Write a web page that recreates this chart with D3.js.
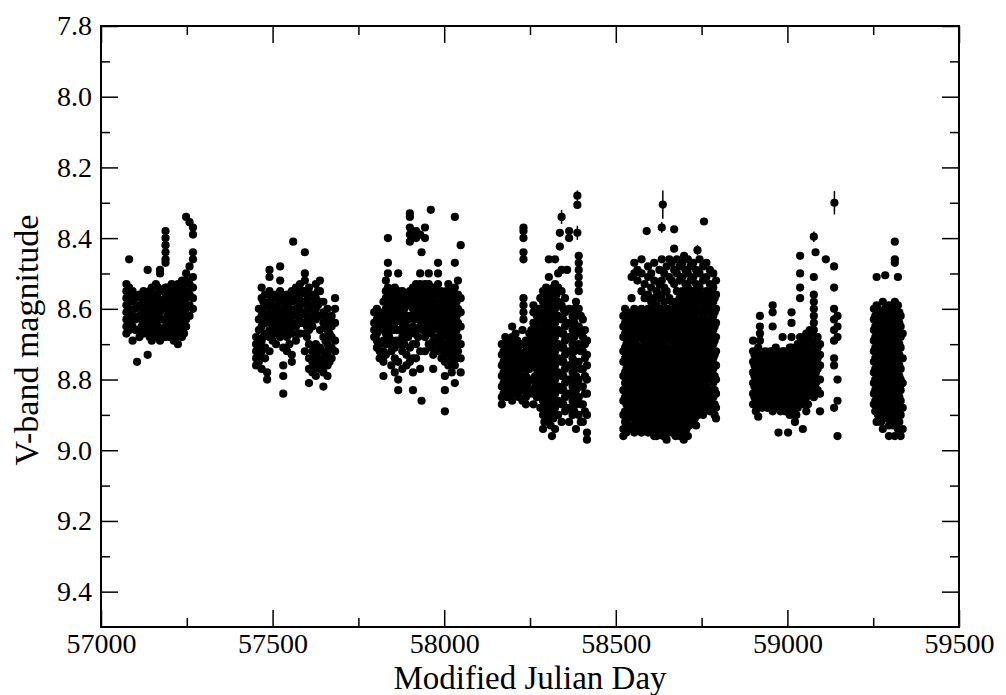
<!DOCTYPE html>
<html>
<head>
<meta charset="utf-8">
<script src="https://cdn.jsdelivr.net/npm/d3@7"></script>
<style>
  body { margin: 0; background: #fff; }
  svg text { font-family: "Liberation Serif", "Times New Roman", serif; fill: #000; }
</style>
</head>
<body>
<div id="chart"></div>
<script>
// observing seasons: [MJD, [V magnitudes observed around that date]]
const season1 = [
  [57074, [8.53, 8.55, 8.57, 8.59, 8.61, 8.63, 8.65, 8.67]],
  [57082, [8.46, 8.54, 8.56, 8.60, 8.62, 8.64, 8.66]],
  [57092, [8.55, 8.58, 8.62, 8.65, 8.69]],
  [57100, [8.57, 8.60, 8.63, 8.66]],
  [57105, [8.75]],
  [57112, [8.56, 8.59, 8.62, 8.66, 8.68]],
  [57118, [8.57, 8.60, 8.63, 8.65]],
  [57124, [8.55, 8.58, 8.61, 8.64, 8.67]],
  [57130, [8.56, 8.59, 8.62, 8.64, 8.66]],
  [57136, [8.49, 8.57, 8.60, 8.62, 8.65, 8.67, 8.73]],
  [57142, [8.55, 8.58, 8.60, 8.63, 8.66, 8.68]],
  [57148, [8.54, 8.58, 8.61, 8.63, 8.66, 8.69]],
  [57154, [8.56, 8.59, 8.61, 8.64, 8.66]],
  [57160, [8.53, 8.56, 8.59, 8.62, 8.64, 8.67]],
  [57166, [8.54, 8.57, 8.60, 8.62, 8.65, 8.68]],
  [57172, [8.49, 8.50, 8.55, 8.58, 8.61, 8.63, 8.66, 8.69]],
  [57180, [8.55, 8.58, 8.60, 8.63, 8.66, 8.68]],
  [57188, [8.38, 8.40, 8.42, 8.44, 8.46, 8.47, 8.54, 8.57, 8.60, 8.63, 8.65, 8.68]],
  [57194, [8.54, 8.56, 8.59, 8.62, 8.64, 8.67]],
  [57200, [8.55, 8.58, 8.61, 8.63, 8.66, 8.68]],
  [57206, [8.53, 8.56, 8.60, 8.62, 8.65, 8.67]],
  [57212, [8.54, 8.57, 8.59, 8.62, 8.64, 8.67, 8.69]],
  [57218, [8.55, 8.58, 8.60, 8.63, 8.65, 8.68]],
  [57224, [8.53, 8.56, 8.59, 8.61, 8.64, 8.66, 8.70]],
  [57230, [8.54, 8.57, 8.60, 8.62, 8.65, 8.67]],
  [57236, [8.52, 8.55, 8.58, 8.61, 8.63, 8.66, 8.68]],
  [57242, [8.53, 8.56, 8.59, 8.62, 8.64, 8.67]],
  [57248, [8.34, 8.50, 8.52, 8.55, 8.57, 8.60, 8.63, 8.65]],
  [57258, [8.355, 8.48, 8.53, 8.56, 8.59, 8.62]],
  [57268, [8.37, 8.39, 8.44, 8.46, 8.51, 8.54, 8.57, 8.60]]
];

const season2 = [
  [57452, [8.68, 8.70, 8.72, 8.74, 8.76]],
  [57460, [8.60, 8.63, 8.66, 8.70, 8.73, 8.75]],
  [57468, [8.54, 8.57, 8.60, 8.62, 8.65, 8.69, 8.72, 8.77]],
  [57473, [8.58, 8.61, 8.64, 8.68]],
  [57478, [8.56, 8.59, 8.62, 8.64, 8.67, 8.71, 8.74]],
  [57484, [8.78, 8.80]],
  [57491, [8.49, 8.51, 8.55, 8.58, 8.61, 8.63, 8.66, 8.68, 8.72]],
  [57495, [8.56, 8.60, 8.64, 8.67]],
  [57500, [8.57, 8.60, 8.62, 8.65, 8.69]],
  [57510, [8.56, 8.59, 8.61, 8.64, 8.67, 8.70]],
  [57516, [8.57, 8.60, 8.63, 8.66]],
  [57522, [8.48, 8.52, 8.55, 8.58, 8.62, 8.65, 8.68]],
  [57531, [8.57, 8.60, 8.63, 8.66, 8.71, 8.76, 8.79, 8.84]],
  [57536, [8.58, 8.61, 8.64, 8.67]],
  [57542, [8.56, 8.59, 8.62, 8.65, 8.68, 8.72]],
  [57549, [8.57, 8.60, 8.63, 8.66, 8.70]],
  [57556, [8.55, 8.58, 8.61, 8.64, 8.67, 8.73, 8.75]],
  [57560, [8.41]],
  [57568, [8.54, 8.57, 8.60, 8.62, 8.65, 8.69]],
  [57574, [8.55, 8.58, 8.61, 8.64, 8.67]],
  [57580, [8.53, 8.56, 8.59, 8.62, 8.64, 8.67]],
  [57587, [8.55, 8.58, 8.61, 8.64]],
  [57594, [8.44, 8.50, 8.52, 8.55, 8.58, 8.61, 8.64, 8.67, 8.72]],
  [57600, [8.56, 8.59, 8.62, 8.65, 8.68]],
  [57606, [8.54, 8.57, 8.60, 8.63, 8.66, 8.70, 8.74, 8.77, 8.81]],
  [57616, [8.56, 8.59, 8.62, 8.65, 8.72, 8.75, 8.78]],
  [57621, [8.57, 8.60, 8.63, 8.71, 8.74, 8.77]],
  [57626, [8.53, 8.57, 8.60, 8.63, 8.70, 8.73, 8.76, 8.79]],
  [57632, [8.55, 8.59, 8.62, 8.72, 8.75]],
  [57638, [8.52, 8.55, 8.58, 8.62, 8.66, 8.71, 8.74, 8.77]],
  [57648, [8.58, 8.61, 8.64, 8.68, 8.72, 8.75, 8.78, 8.82]],
  [57654, [8.62, 8.65, 8.69, 8.73, 8.76]],
  [57660, [8.60, 8.63, 8.66, 8.70, 8.73, 8.76, 8.79]],
  [57666, [8.64, 8.67, 8.71, 8.75]],
  [57672, [8.62, 8.65, 8.68, 8.71, 8.74]],
  [57682, [8.57, 8.60, 8.64, 8.69, 8.72]]
];

const season3 = [
  [57796, [8.61, 8.64, 8.66, 8.68]],
  [57804, [8.60, 8.63, 8.65, 8.67, 8.69, 8.71]],
  [57812, [8.62, 8.64, 8.66, 8.70, 8.72, 8.74]],
  [57823, [8.58, 8.61, 8.65, 8.69, 8.72, 8.75, 8.79]],
  [57830, [8.52, 8.55, 8.57, 8.60, 8.63, 8.67, 8.70, 8.73]],
  [57836, [8.40, 8.47, 8.50, 8.54, 8.58, 8.62, 8.66, 8.70]],
  [57840, [8.56, 8.60, 8.64, 8.68]],
  [57846, [8.55, 8.58, 8.62, 8.66, 8.69, 8.72, 8.76]],
  [57851, [8.56, 8.59, 8.62, 8.66, 8.70]],
  [57856, [8.54, 8.57, 8.60, 8.64, 8.71, 8.74, 8.78]],
  [57861, [8.56, 8.59, 8.62, 8.66, 8.69]],
  [57866, [8.50, 8.55, 8.59, 8.62, 8.66, 8.70, 8.75, 8.80, 8.83]],
  [57872, [8.57, 8.60, 8.63, 8.66, 8.70]],
  [57878, [8.55, 8.58, 8.61, 8.64, 8.68, 8.72, 8.77]],
  [57884, [8.57, 8.60, 8.63, 8.67, 8.70]],
  [57890, [8.56, 8.59, 8.62, 8.65, 8.68, 8.73, 8.76]],
  [57895, [8.56, 8.59, 8.63, 8.68]],
  [57900, [8.33, 8.34, 8.37, 8.39, 8.41, 8.55, 8.58, 8.62, 8.66, 8.71, 8.75]],
  [57909, [8.54, 8.57, 8.60, 8.65, 8.70, 8.74, 8.78, 8.83]],
  [57913, [8.55, 8.58, 8.61, 8.63, 8.67]],
  [57918, [8.38, 8.40, 8.53, 8.56, 8.59, 8.62, 8.66, 8.70, 8.74]],
  [57924, [8.55, 8.57, 8.60, 8.63, 8.68]],
  [57930, [8.39, 8.50, 8.53, 8.56, 8.59, 8.62, 8.65, 8.72, 8.77]],
  [57934, [8.44, 8.86]],
  [57937, [8.54, 8.57, 8.60, 8.63, 8.66]],
  [57944, [8.37, 8.40, 8.53, 8.56, 8.58, 8.61, 8.64, 8.68, 8.72]],
  [57950, [8.55, 8.58, 8.61, 8.64, 8.67]],
  [57955, [8.50, 8.53, 8.56, 8.59, 8.62, 8.66, 8.70]],
  [57961, [8.32]],
  [57962, [8.55, 8.58, 8.61, 8.64, 8.67, 8.71]],
  [57968, [8.54, 8.57, 8.60, 8.63, 8.66, 8.69, 8.73, 8.77]],
  [57975, [8.55, 8.58, 8.61, 8.65, 8.70]],
  [57982, [8.47, 8.50, 8.53, 8.56, 8.60, 8.64, 8.68, 8.72]],
  [57987, [8.56, 8.59, 8.62, 8.66, 8.70]],
  [57992, [8.55, 8.58, 8.61, 8.65, 8.70, 8.74]],
  [57997, [8.57, 8.60, 8.64, 8.68, 8.72]],
  [58002, [8.56, 8.59, 8.63, 8.67, 8.71, 8.75, 8.79, 8.83, 8.89]],
  [58007, [8.55, 8.58, 8.62, 8.66, 8.70, 8.73]],
  [58012, [8.53, 8.56, 8.60, 8.64, 8.68, 8.72, 8.76]],
  [58017, [8.57, 8.60, 8.64, 8.68, 8.72]],
  [58022, [8.55, 8.58, 8.62, 8.66, 8.70, 8.74, 8.78]],
  [58027, [8.56, 8.60, 8.63, 8.67, 8.71, 8.75]],
  [58031, [8.34, 8.47, 8.54, 8.57, 8.61, 8.65, 8.69, 8.73, 8.76, 8.81]],
  [58036, [8.58, 8.62, 8.66, 8.70, 8.74]],
  [58040, [8.52, 8.56, 8.60, 8.64, 8.68, 8.72]],
  [58048, [8.42, 8.57, 8.61, 8.65, 8.70, 8.74, 8.78]]
];

const season4 = [
  [58168, [8.70, 8.73, 8.76, 8.79, 8.82, 8.85, 8.87]],
  [58173, [8.72, 8.75, 8.78, 8.81, 8.84]],
  [58178, [8.68, 8.71, 8.74, 8.77, 8.80, 8.83]],
  [58183, [8.70, 8.73, 8.76, 8.79, 8.82, 8.85]],
  [58188, [8.71, 8.74, 8.77, 8.80, 8.84]],
  [58193, [8.69, 8.72, 8.75, 8.79, 8.82]],
  [58198, [8.65, 8.68, 8.72, 8.75, 8.78, 8.82, 8.86]],
  [58203, [8.70, 8.74, 8.77, 8.80, 8.84]],
  [58208, [8.67, 8.70, 8.73, 8.76, 8.80, 8.83]],
  [58213, [8.69, 8.72, 8.75, 8.79, 8.82]],
  [58218, [8.72, 8.75, 8.78, 8.81, 8.85]],
  [58223, [8.70, 8.73, 8.76, 8.79, 8.83]],
  [58228, [8.66, 8.70, 8.74, 8.77, 8.80, 8.83, 8.86]],
  [58231, [8.37, 8.38, 8.40, 8.44, 8.46, 8.57, 8.59, 8.61, 8.63]],
  [58238, [8.69, 8.72, 8.75, 8.79, 8.82, 8.85, 8.87]],
  [58243, [8.70, 8.74, 8.77, 8.81, 8.84]],
  [58248, [8.67, 8.71, 8.74, 8.77, 8.80, 8.84]],
  [58254, [8.66, 8.69, 8.73, 8.76, 8.80, 8.83]],
  [58260, [8.59, 8.61, 8.64, 8.68, 8.72, 8.76, 8.80, 8.84, 8.87]],
  [58265, [8.64, 8.68, 8.71, 8.75, 8.79, 8.82]],
  [58270, [8.62, 8.66, 8.70, 8.73, 8.77, 8.81, 8.85]],
  [58275, [8.60, 8.64, 8.68, 8.72, 8.75, 8.79, 8.83]],
  [58280, [8.57, 8.60, 8.63, 8.67, 8.71, 8.75, 8.79, 8.83, 8.88]],
  [58284, [8.57, 8.60, 8.64, 8.68, 8.72, 8.76, 8.80, 8.84, 8.88]],
  [58288, [8.55, 8.58, 8.62, 8.66, 8.70, 8.74, 8.78, 8.82, 8.86, 8.90, 8.94]],
  [58292, [8.56, 8.60, 8.64, 8.68, 8.72, 8.76, 8.80, 8.84, 8.88, 8.92]],
  [58297, [8.54, 8.57, 8.60, 8.64, 8.68, 8.72, 8.76, 8.80, 8.84, 8.88]],
  [58301, [8.56, 8.59, 8.62, 8.66, 8.70, 8.74, 8.78, 8.82, 8.86, 8.90]],
  [58305, [8.46, 8.51, 8.55, 8.58, 8.62, 8.66, 8.70, 8.74, 8.78, 8.82, 8.86, 8.91]],
  [58310, [8.57, 8.60, 8.64, 8.68, 8.72, 8.76, 8.80, 8.84, 8.88, 8.93]],
  [58314, [8.55, 8.58, 8.61, 8.65, 8.69, 8.73, 8.77, 8.81, 8.85, 8.89, 8.96]],
  [58318, [8.54, 8.57, 8.60, 8.63, 8.67, 8.71, 8.75, 8.79, 8.83, 8.87, 8.91]],
  [58323, [8.46, 8.53, 8.56, 8.60, 8.64, 8.68, 8.72, 8.76, 8.80, 8.84, 8.88, 8.94]],
  [58327, [8.56, 8.59, 8.62, 8.66, 8.70, 8.74, 8.78, 8.82, 8.86, 8.90]],
  [58332, [8.50, 8.54, 8.58, 8.62, 8.66, 8.70, 8.74, 8.78, 8.82, 8.86, 8.90]],
  [58337, [8.385, 8.424]],
  [58342, [8.49, 8.55, 8.59, 8.63, 8.67, 8.71, 8.75, 8.79, 8.83, 8.87, 8.92]],
  [58347, [8.60, 8.63, 8.67, 8.71, 8.75, 8.79, 8.83, 8.87]],
  [58352, [8.57, 8.61, 8.65, 8.69, 8.73, 8.77, 8.81, 8.85, 8.89]],
  [58358, [8.49]],
  [58364, [8.38, 8.40, 8.60, 8.64, 8.68, 8.72, 8.76, 8.80, 8.84, 8.88, 8.92]],
  [58369, [8.64, 8.68, 8.72, 8.76, 8.80, 8.84, 8.88]],
  [58374, [8.62, 8.66, 8.70, 8.74, 8.78, 8.82, 8.86, 8.90]],
  [58379, [8.60, 8.64, 8.68, 8.72, 8.77, 8.81, 8.85, 8.89]],
  [58384, [8.58, 8.62, 8.66, 8.71, 8.75, 8.79, 8.83, 8.87, 8.94]],
  [58388, [8.306]],
  [58392, [8.45, 8.47, 8.49, 8.51, 8.53, 8.55, 8.60, 8.65, 8.70, 8.75, 8.80, 8.85, 8.90]],
  [58398, [8.62, 8.67, 8.72, 8.77, 8.82, 8.87, 8.92]],
  [58404, [8.63, 8.68, 8.72, 8.77, 8.82, 8.87, 8.92]],
  [58410, [8.66, 8.70, 8.74, 8.79, 8.84, 8.89]],
  [58416, [8.69, 8.73, 8.76, 8.80, 8.84, 8.90, 8.95, 8.97]]
];

const season5 = [
  [58522, [8.62, 8.65, 8.68, 8.72, 8.75, 8.79, 8.83, 8.86, 8.90, 8.94, 8.96]],
  [58527, [8.60, 8.64, 8.67, 8.71, 8.74, 8.78, 8.81, 8.85, 8.89, 8.92]],
  [58531, [8.63, 8.66, 8.70, 8.73, 8.77, 8.80, 8.84, 8.87, 8.91, 8.95]],
  [58536, [8.61, 8.64, 8.68, 8.71, 8.75, 8.78, 8.82, 8.85, 8.88, 8.91, 8.94]],
  [58541, [8.62, 8.66, 8.69, 8.73, 8.76, 8.80, 8.84, 8.87, 8.90, 8.93]],
  [58546, [8.51, 8.57, 8.63, 8.66, 8.69, 8.73, 8.76, 8.80, 8.83, 8.87, 8.90, 8.93]],
  [58550, [8.61, 8.65, 8.68, 8.72, 8.75, 8.79, 8.82, 8.86, 8.89, 8.93]],
  [58554, [8.47, 8.50, 8.60, 8.63, 8.67, 8.70, 8.74, 8.77, 8.81, 8.84, 8.88, 8.91, 8.95]],
  [58559, [8.63, 8.66, 8.70, 8.73, 8.77, 8.80, 8.84, 8.87, 8.91, 8.94]],
  [58563, [8.49, 8.52, 8.62, 8.65, 8.68, 8.72, 8.75, 8.79, 8.82, 8.86, 8.89, 8.93]],
  [58568, [8.61, 8.65, 8.68, 8.72, 8.76, 8.79, 8.83, 8.86, 8.90, 8.93]],
  [58575, [8.46, 8.50, 8.55, 8.60, 8.64, 8.67, 8.71, 8.74, 8.78, 8.81, 8.85, 8.88, 8.92, 8.95]],
  [58580, [8.62, 8.66, 8.69, 8.73, 8.76, 8.80, 8.84, 8.87, 8.91, 8.94]],
  [58584, [8.53, 8.57, 8.61, 8.65, 8.68, 8.72, 8.76, 8.79, 8.83, 8.86, 8.90, 8.93]],
  [58589, [8.61, 8.64, 8.68, 8.72, 8.75, 8.79, 8.82, 8.86, 8.89, 8.93]],
  [58594, [8.48, 8.51, 8.56, 8.60, 8.63, 8.67, 8.70, 8.74, 8.77, 8.81, 8.84, 8.88, 8.91, 8.95]],
  [58598, [8.62, 8.65, 8.69, 8.72, 8.76, 8.79, 8.83, 8.86, 8.90, 8.93]],
  [58603, [8.50, 8.54, 8.58, 8.62, 8.66, 8.69, 8.73, 8.76, 8.80, 8.83, 8.87, 8.90, 8.94]],
  [58607, [8.60, 8.64, 8.67, 8.71, 8.74, 8.78, 8.81, 8.85, 8.88, 8.92, 8.95]],
  [58612, [8.47, 8.52, 8.57, 8.61, 8.64, 8.68, 8.71, 8.75, 8.78, 8.82, 8.85, 8.89, 8.92, 8.96]],
  [58616, [8.61, 8.65, 8.69, 8.72, 8.76, 8.80, 8.83, 8.87, 8.90, 8.93]],
  [58619, [8.55, 8.59, 8.63, 8.67, 8.70, 8.74, 8.77, 8.81, 8.84, 8.88, 8.91, 8.94, 8.96]],
  [58623, [8.62, 8.66, 8.69, 8.73, 8.77, 8.80, 8.84, 8.87, 8.91, 8.95]],
  [58627, [8.49, 8.53, 8.57, 8.60, 8.64, 8.68, 8.71, 8.75, 8.79, 8.82, 8.86, 8.89, 8.93]],
  [58631, [8.60, 8.63, 8.67, 8.70, 8.74, 8.78, 8.81, 8.85, 8.88, 8.92]],
  [58634, [8.46, 8.52, 8.56, 8.61, 8.65, 8.69, 8.72, 8.76, 8.80, 8.83, 8.87, 8.90, 8.94]],
  [58638, [8.61, 8.64, 8.68, 8.71, 8.75, 8.79, 8.82, 8.86, 8.89, 8.93, 8.96]],
  [58641, [8.50, 8.54, 8.58, 8.62, 8.66, 8.70, 8.73, 8.77, 8.81, 8.84, 8.88, 8.92, 8.95]],
  [58645, [8.62, 8.65, 8.69, 8.72, 8.76, 8.80, 8.83, 8.87, 8.90, 8.94]],
  [58648, [8.48, 8.55, 8.60, 8.63, 8.67, 8.71, 8.74, 8.78, 8.82, 8.85, 8.89, 8.93, 8.97]],
  [58652, [8.60, 8.64, 8.67, 8.71, 8.74, 8.78, 8.81, 8.85, 8.88, 8.92, 8.95]],
  [58656, [8.46, 8.51, 8.57, 8.61, 8.65, 8.68, 8.72, 8.76, 8.79, 8.83, 8.87, 8.90, 8.94]],
  [58660, [8.61, 8.65, 8.68, 8.72, 8.75, 8.79, 8.82, 8.86, 8.89, 8.93]],
  [58663, [8.47, 8.52, 8.58, 8.62, 8.66, 8.69, 8.73, 8.77, 8.80, 8.84, 8.88, 8.91, 8.95]],
  [58667, [8.62, 8.66, 8.69, 8.73, 8.76, 8.80, 8.84, 8.87, 8.91, 8.94]],
  [58670, [8.375, 8.43, 8.49, 8.53, 8.60, 8.64, 8.67, 8.71, 8.75, 8.78, 8.82, 8.86, 8.89, 8.93]],
  [58674, [8.58, 8.63, 8.67, 8.70, 8.74, 8.77, 8.81, 8.85, 8.88, 8.92, 8.96]],
  [58678, [8.46, 8.50, 8.55, 8.61, 8.65, 8.69, 8.72, 8.76, 8.80, 8.83, 8.87, 8.91, 8.94]],
  [58682, [8.59, 8.62, 8.66, 8.69, 8.73, 8.77, 8.80, 8.84, 8.87, 8.91, 8.94]],
  [58686, [8.48, 8.52, 8.57, 8.60, 8.63, 8.67, 8.70, 8.74, 8.78, 8.81, 8.85, 8.89, 8.92, 8.96]],
  [58690, [8.58, 8.61, 8.65, 8.68, 8.72, 8.75, 8.79, 8.83, 8.86, 8.90, 8.93]],
  [58694, [8.47, 8.51, 8.55, 8.62, 8.66, 8.69, 8.73, 8.77, 8.80, 8.84, 8.88, 8.91, 8.95]],
  [58698, [8.57, 8.60, 8.64, 8.67, 8.71, 8.75, 8.78, 8.82, 8.85, 8.89, 8.93, 8.97]],
  [58699, [8.45]],
  [58703, [8.49, 8.53, 8.58, 8.61, 8.64, 8.68, 8.72, 8.75, 8.79, 8.83, 8.86, 8.90, 8.93]],
  [58706, [8.56, 8.60, 8.63, 8.66, 8.70, 8.74, 8.77, 8.81, 8.85, 8.88, 8.91, 8.94]],
  [58710, [8.46, 8.50, 8.54, 8.59, 8.63, 8.67, 8.70, 8.74, 8.78, 8.81, 8.85, 8.89, 8.92, 8.96]],
  [58714, [8.57, 8.61, 8.64, 8.68, 8.71, 8.75, 8.79, 8.82, 8.86, 8.89, 8.93]],
  [58718, [8.48, 8.52, 8.56, 8.60, 8.65, 8.69, 8.72, 8.76, 8.80, 8.83, 8.87, 8.90]],
  [58722, [8.58, 8.61, 8.65, 8.68, 8.72, 8.75, 8.79, 8.82, 8.86, 8.89, 8.92]],
  [58726, [8.47, 8.51, 8.55, 8.62, 8.66, 8.70, 8.73, 8.77, 8.81, 8.84, 8.88, 8.92]],
  [58730, [8.56, 8.59, 8.63, 8.66, 8.70, 8.73, 8.77, 8.80, 8.84, 8.87, 8.91]],
  [58734, [8.49, 8.53, 8.57, 8.61, 8.64, 8.68, 8.71, 8.75, 8.79, 8.82, 8.86, 8.89, 8.93]],
  [58739, [8.56, 8.60, 8.65, 8.69, 8.72, 8.76, 8.80, 8.83, 8.87, 8.90]],
  [58744, [8.46, 8.50, 8.54, 8.58, 8.63, 8.67, 8.70, 8.74, 8.78, 8.81, 8.85, 8.88]],
  [58749, [8.57, 8.61, 8.63, 8.67, 8.71, 8.74, 8.78, 8.82, 8.85, 8.89]],
  [58754, [8.48, 8.52, 8.56, 8.60, 8.65, 8.69, 8.72, 8.76, 8.80, 8.83, 8.87, 8.90]],
  [58759, [8.58, 8.61, 8.65, 8.69, 8.73, 8.76, 8.80, 8.84, 8.87]],
  [58764, [8.47, 8.51, 8.55, 8.59, 8.63, 8.67, 8.71, 8.74, 8.78, 8.82, 8.85]],
  [58769, [8.56, 8.60, 8.65, 8.69, 8.73, 8.76, 8.80, 8.84, 8.88]],
  [58774, [8.49, 8.53, 8.57, 8.61, 8.64, 8.68, 8.72, 8.75, 8.79, 8.83, 8.86, 8.89]],
  [58779, [8.55, 8.59, 8.63, 8.66, 8.70, 8.73, 8.77, 8.80, 8.84, 8.87]],
  [58784, [8.50, 8.54, 8.58, 8.62, 8.66, 8.70, 8.74, 8.77, 8.81, 8.85]],
  [58788, [8.57, 8.61, 8.65, 8.69, 8.73, 8.76, 8.79, 8.83, 8.87, 8.90]],
  [58792, [8.52, 8.56, 8.60, 8.64, 8.68, 8.72, 8.76, 8.80, 8.84, 8.88, 8.91]]
];

const season6 = [
  [58900, [8.69, 8.72, 8.75, 8.78, 8.81, 8.84, 8.87]],
  [58904, [8.73, 8.76, 8.79, 8.82, 8.85]],
  [58908, [8.74, 8.77, 8.80, 8.83, 8.86, 8.89]],
  [58911, [8.72, 8.75, 8.79, 8.82, 8.85, 8.88]],
  [58915, [8.71, 8.74, 8.78, 8.81, 8.84, 8.87, 8.905]],
  [58920, [8.62, 8.65, 8.67, 8.69]],
  [58926, [8.73, 8.76, 8.79, 8.82, 8.85, 8.88]],
  [58931, [8.74, 8.77, 8.80, 8.83, 8.86]],
  [58936, [8.72, 8.75, 8.78, 8.81, 8.84, 8.87]],
  [58941, [8.73, 8.76, 8.79, 8.82, 8.85, 8.88]],
  [58946, [8.74, 8.77, 8.80, 8.83, 8.86]],
  [58951, [8.72, 8.75, 8.78, 8.81, 8.84, 8.87]],
  [58957, [8.59, 8.61, 8.65, 8.72, 8.75, 8.78, 8.81, 8.84, 8.87, 8.89]],
  [58961, [8.73, 8.76, 8.79, 8.82, 8.85, 8.88]],
  [58966, [8.71, 8.74, 8.77, 8.80, 8.83, 8.86]],
  [58970, [8.72, 8.75, 8.78, 8.81, 8.84, 8.87]],
  [58974, [8.73, 8.76, 8.79, 8.82, 8.85, 8.88, 8.95]],
  [58980, [8.74, 8.77, 8.80, 8.83, 8.86, 8.89]],
  [58986, [8.68, 8.72, 8.75, 8.78, 8.81, 8.84, 8.87]],
  [58990, [8.72, 8.75, 8.78, 8.81, 8.84, 8.87]],
  [58994, [8.74, 8.77, 8.80, 8.83, 8.86, 8.89]],
  [58998, [8.73, 8.76, 8.79, 8.82, 8.85, 8.88]],
  [59002, [8.72, 8.75, 8.78, 8.81, 8.84, 8.87, 8.95]],
  [59007, [8.71, 8.74, 8.77, 8.80, 8.83, 8.86, 8.90]],
  [59012, [8.61, 8.64, 8.68, 8.71, 8.74, 8.77, 8.80, 8.83, 8.86, 8.89]],
  [59017, [8.72, 8.75, 8.78, 8.81, 8.84, 8.87]],
  [59022, [8.73, 8.76, 8.79, 8.82, 8.85, 8.88, 8.92]],
  [59026, [8.71, 8.74, 8.77, 8.80, 8.83, 8.86, 8.90]],
  [59030, [8.70, 8.73, 8.76, 8.79, 8.82, 8.85, 8.88]],
  [59037, [8.45, 8.50, 8.54, 8.57, 8.68, 8.71, 8.74, 8.77, 8.80, 8.83, 8.86]],
  [59041, [8.70, 8.73, 8.76, 8.79, 8.82, 8.85]],
  [59045, [8.69, 8.72, 8.75, 8.78, 8.81, 8.84, 8.87, 8.94]],
  [59050, [8.68, 8.71, 8.74, 8.77, 8.80, 8.83, 8.86]],
  [59055, [8.67, 8.70, 8.73, 8.76, 8.79, 8.82, 8.85, 8.89]],
  [59060, [8.68, 8.71, 8.74, 8.77, 8.80, 8.83, 8.87]],
  [59065, [8.66, 8.69, 8.72, 8.75, 8.78, 8.81, 8.84]],
  [59071, [8.67, 8.70, 8.73, 8.76, 8.79, 8.82]],
  [59077, [8.51, 8.56, 8.58, 8.60, 8.62, 8.64, 8.66, 8.70, 8.73, 8.76, 8.79, 8.82, 8.85]],
  [59082, [8.44]],
  [59083, [8.69, 8.72, 8.75, 8.78, 8.81, 8.84]],
  [59088, [8.68, 8.71, 8.74, 8.77, 8.80, 8.83]],
  [59095, [8.70, 8.73, 8.76, 8.80, 8.84, 8.89]],
  [59112, [8.46]],
  [59136, [8.48, 8.54, 8.60, 8.63, 8.66, 8.69, 8.74, 8.76, 8.88]],
  [59146, [8.62, 8.65, 8.68, 8.80, 8.86, 8.96]]
];

const season7 = [
  [59252, [8.60, 8.63, 8.66, 8.69, 8.72, 8.75, 8.78, 8.81, 8.84, 8.87]],
  [59256, [8.62, 8.65, 8.68, 8.71, 8.74, 8.77, 8.80, 8.83, 8.86, 8.89]],
  [59260, [8.51, 8.59, 8.62, 8.65, 8.68, 8.71, 8.74, 8.77, 8.80, 8.83, 8.86, 8.89, 8.92]],
  [59264, [8.60, 8.63, 8.66, 8.69, 8.72, 8.75, 8.78, 8.81, 8.84, 8.87, 8.90]],
  [59268, [8.61, 8.64, 8.67, 8.70, 8.73, 8.76, 8.79, 8.82, 8.85, 8.88, 8.91]],
  [59273, [8.62, 8.65, 8.68, 8.71, 8.74, 8.77, 8.80, 8.83, 8.86, 8.89, 8.92]],
  [59278, [8.58, 8.62, 8.65, 8.68, 8.71, 8.74, 8.77, 8.80, 8.83, 8.86, 8.90, 8.94]],
  [59285, [8.505, 8.60, 8.63, 8.66, 8.69, 8.72, 8.75, 8.78, 8.81, 8.84, 8.87]],
  [59290, [8.61, 8.64, 8.67, 8.70, 8.73, 8.76, 8.79, 8.82, 8.85, 8.88, 8.91]],
  [59296, [8.59, 8.62, 8.65, 8.68, 8.71, 8.74, 8.77, 8.80, 8.83, 8.86, 8.89, 8.93, 8.96]],
  [59300, [8.62, 8.65, 8.68, 8.71, 8.74, 8.77, 8.80, 8.83, 8.86, 8.89, 8.92]],
  [59304, [8.60, 8.63, 8.66, 8.69, 8.72, 8.75, 8.78, 8.81, 8.84, 8.87, 8.90]],
  [59308, [8.59, 8.62, 8.65, 8.68, 8.71, 8.74, 8.77, 8.80, 8.83, 8.86, 8.89, 8.93]],
  [59313, [8.41, 8.46, 8.47, 8.58, 8.61, 8.64, 8.67, 8.70, 8.73, 8.76, 8.79, 8.82, 8.85, 8.88, 8.92, 8.96]],
  [59317, [8.60, 8.63, 8.66, 8.69, 8.72, 8.75, 8.78, 8.81, 8.84, 8.87, 8.90]],
  [59322, [8.51, 8.59, 8.62, 8.65, 8.68, 8.71, 8.74, 8.77, 8.80, 8.83, 8.86, 8.89, 8.94]],
  [59326, [8.61, 8.64, 8.67, 8.70, 8.73, 8.76, 8.79, 8.82, 8.85, 8.88, 8.92]],
  [59330, [8.62, 8.65, 8.68, 8.71, 8.74, 8.77, 8.80, 8.83, 8.86, 8.90, 8.96]],
  [59336, [8.67, 8.74, 8.81, 8.88, 8.94]]
];

// points whose error bars stick out of the marker: [MJD, mag, error]
const errorPoints = [
  [58388, 8.28, 0.015],
  [58342, 8.34, 0.02],
  [58388, 8.385, 0.02],
  [58637, 8.305, 0.04],
  [58634, 8.37, 0.015],
  [58590, 8.38, 0.01],
  [58757, 8.353, 0.01],
  [58738, 8.434, 0.015],
  [59077, 8.396, 0.015],
  [59137, 8.30, 0.033]
];

const xMajorTicks = [57000, 57500, 58000, 58500, 59000, 59500];
const xMinorTicks = [57250, 57750, 58250, 58750, 59250];
const yMajorTicks = [7.8, 8.0, 8.2, 8.4, 8.6, 8.8, 9.0, 9.2, 9.4];
const yMinorTicks = [7.9, 8.1, 8.3, 8.5, 8.7, 8.9, 9.1, 9.3];

// chart dimensions
const width = 1006;
const height = 695;
const margin = { top: 26, right: 47, bottom: 68, left: 101 };
const innerW = width - margin.left - margin.right;
const innerH = height - margin.top - margin.bottom;

const svg = d3.select("#chart")
  .append("svg")
  .attr("width", width)
  .attr("height", height);

const g = svg.append("g")
  .attr("transform", `translate(${margin.left}, ${margin.top})`);

// scales
const xScale = d3.scaleLinear().domain([57000, 59500]).range([0, innerW]);
const yScale = d3.scaleLinear().domain([7.8, 9.5]).range([0, innerH]);

// data points
const allPoints = [season1, season2, season3, season4, season5, season6, season7]
  .flatMap(season => season.flatMap(([mjd, mags]) => mags.map(m => [mjd, m])));

g.append("g")
  .selectAll("line")
  .data(errorPoints)
  .join("line")
  .attr("x1", d => xScale(d[0]))
  .attr("x2", d => xScale(d[0]))
  .attr("y1", d => yScale(d[1] - d[2]))
  .attr("y2", d => yScale(d[1] + d[2]))
  .attr("stroke", "#000")
  .attr("stroke-width", 1.5);

g.append("g")
  .selectAll("circle")
  .data(allPoints.concat(errorPoints))
  .join("circle")
  .attr("cx", d => xScale(d[0]))
  .attr("cy", d => yScale(d[1]))
  .attr("r", 4.1)
  .attr("fill", "#000");

// axes: ticks point inward on all four sides
function styleAxis(sel) {
  sel.attr("font-family", null).attr("font-size", null);
  sel.select(".domain").remove();
  sel.selectAll(".tick line").attr("stroke", "#000").attr("stroke-width", 1.5);
  sel.selectAll("text")
    .style("font-family", "'Liberation Serif', 'Times New Roman', serif")
    .style("font-size", "28px");
}
function noLabels(sel) {
  sel.selectAll("text").remove();
}

g.append("g")
  .attr("transform", `translate(0, ${innerH})`)
  .call(d3.axisBottom(xScale).tickValues(xMajorTicks).tickSize(-17).tickPadding(6).tickFormat(d3.format("d")))
  .call(styleAxis);
g.append("g")
  .attr("transform", `translate(0, ${innerH})`)
  .call(d3.axisBottom(xScale).tickValues(xMinorTicks).tickSize(-9))
  .call(styleAxis).call(noLabels);
g.append("g")
  .call(d3.axisTop(xScale).tickValues(xMajorTicks).tickSize(-17))
  .call(styleAxis).call(noLabels);
g.append("g")
  .call(d3.axisTop(xScale).tickValues(xMinorTicks).tickSize(-9))
  .call(styleAxis).call(noLabels);

g.append("g")
  .call(d3.axisLeft(yScale).tickValues(yMajorTicks).tickSize(-17).tickPadding(9).tickFormat(d3.format(".1f")))
  .call(styleAxis);
g.append("g")
  .call(d3.axisLeft(yScale).tickValues(yMinorTicks).tickSize(-9))
  .call(styleAxis).call(noLabels);
g.append("g")
  .attr("transform", `translate(${innerW}, 0)`)
  .call(d3.axisRight(yScale).tickValues(yMajorTicks).tickSize(-17))
  .call(styleAxis).call(noLabels);
g.append("g")
  .attr("transform", `translate(${innerW}, 0)`)
  .call(d3.axisRight(yScale).tickValues(yMinorTicks).tickSize(-9))
  .call(styleAxis).call(noLabels);

// frame
g.append("rect")
  .attr("width", innerW)
  .attr("height", innerH)
  .attr("fill", "none")
  .attr("stroke", "#000")
  .attr("stroke-width", 2);

// axis titles
svg.append("text")
  .attr("x", margin.left + innerW / 2)
  .attr("y", 689)
  .attr("text-anchor", "middle")
  .style("font-size", "33px")
  .text("Modified Julian Day");

svg.append("text")
  .attr("transform", `translate(38, 340) rotate(-90)`)
  .attr("text-anchor", "middle")
  .style("font-size", "34px")
  .text("V-band magnitude");
</script>
</body>
</html>
